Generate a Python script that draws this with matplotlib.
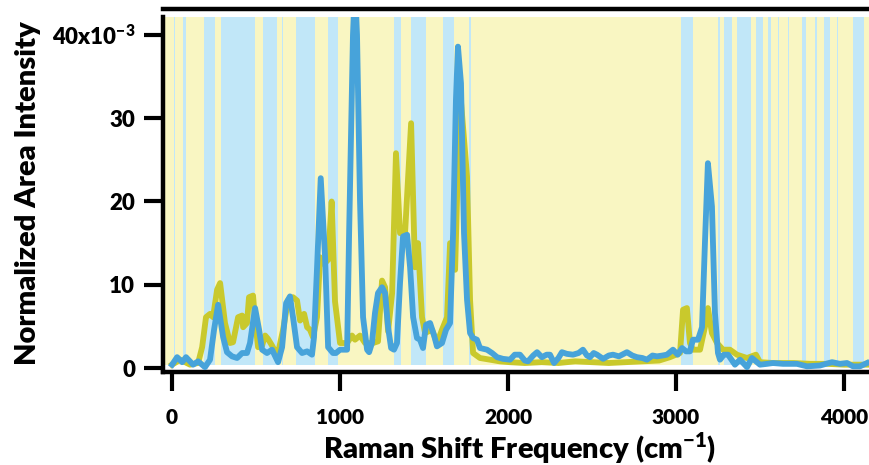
import matplotlib
matplotlib.use("Agg")
import matplotlib.pyplot as plt
from matplotlib.ticker import FixedLocator, FixedFormatter

plt.rcParams['font.family'] = ['Lato', 'DejaVu Sans']
plt.rcParams['mathtext.fontset'] = 'custom'
plt.rcParams['mathtext.bf'] = 'Lato:heavy'
plt.rcParams['mathtext.rm'] = 'Lato:heavy'

# Raman shift (cm-1) and normalized area intensity (x10^-3)
shift_blue = [0, 30, 60, 83, 125, 155, 196, 226, 250, 274, 304, 327, 357, 387, 417, 446,
              464, 494, 518, 536, 565, 595, 631, 655, 679, 702, 720, 744, 774, 804, 833,
              845, 863, 885, 911, 929, 958, 976, 1000, 1042, 1054, 1077, 1089, 1101, 1119,
              1137, 1161, 1173, 1190, 1208, 1226, 1250, 1268, 1286, 1304, 1321, 1339, 1357,
              1375, 1399, 1417, 1435, 1458, 1476, 1494, 1512, 1536, 1560, 1577, 1607, 1631,
              1655, 1673, 1690, 1702, 1720, 1738, 1756, 1774, 1792, 1815, 1833, 1875, 1905,
              1935, 1970, 2012, 2040, 2071, 2100, 2119, 2150, 2173, 2202, 2230, 2250, 2274,
              2300, 2321, 2350, 2387, 2420, 2446, 2470, 2488, 2510, 2530, 2566, 2600, 2625,
              2660, 2708, 2740, 2768, 2800, 2827, 2860, 2887, 2920, 2946, 2982, 3010, 3036,
              3060, 3083, 3101, 3131, 3155, 3173, 3190, 3214, 3232, 3250, 3262, 3285, 3310,
              3351, 3381, 3423, 3452, 3500, 3542, 3577, 3637, 3680, 3720, 3780, 3857, 3929,
              3976, 4018, 4054, 4095, 4137]
int_blue = [0.4, 1.3, 0.7, 1.3, 0.4, 0.8, 0.1, 1.0, 4.6, 7.6, 3.7, 1.9, 1.4, 1.2, 1.8, 1.8,
            3.0, 7.2, 4.6, 2.2, 1.8, 2.2, 0.7, 2.5, 7.8, 8.6, 6.1, 2.5, 1.8, 2.0, 1.6,
            3.7, 12.0, 22.8, 13.3, 2.5, 1.8, 1.8, 2.2, 2.2, 16.2, 40.0, 46.0, 40.0, 20.0,
            6.1, 2.2, 1.9, 3.0, 6.6, 9.0, 9.7, 9.0, 4.9, 2.4, 2.2, 3.0, 10.2,
            15.8, 16.0, 12.1, 6.1, 3.6, 3.4, 2.4, 5.2, 5.4, 3.9, 2.6, 3.0, 4.6,
            5.4, 16.2, 32.2, 38.6, 34.2, 16.2, 8.2, 4.2, 3.6, 3.4, 2.4, 2.2, 1.8,
            1.3, 1.1, 1.0, 1.6, 1.6, 0.9, 0.8, 1.5, 1.9, 1.3, 1.6, 1.6, 0.6,
            1.2, 1.9, 1.7, 1.6, 1.8, 2.2, 1.5, 1.3, 1.8, 1.6, 1.1, 1.5, 1.6,
            1.4, 1.9, 1.5, 1.3, 1.2, 1.0, 1.5, 1.4, 1.5, 1.6, 2.2, 1.6, 2.4,
            2.0, 2.0, 3.4, 3.4, 4.9, 15.4, 24.6, 19.4, 6.6, 1.8, 1.0, 1.6, 1.6,
            0.4, 1.0, 0.1, 1.2, 0.4, 0.5, 0.6, 0.5, 0.5, 0.5, 0.2, 0.3, 0.7,
            0.5, 0.6, 0.2, 0.2, 0.6]

shift_olive = [0, 48, 107, 155, 179, 202, 226, 244, 268, 286, 315, 345, 363, 393, 417, 423,
               446, 458, 482, 494, 512, 536, 554, 571, 595, 613, 631, 661, 690, 720, 744,
               762, 786, 804, 821, 839, 863, 881, 905, 929, 950, 970, 1000, 1042, 1071, 1089,
               1119, 1149, 1196, 1226, 1250, 1268, 1286, 1310, 1333, 1357, 1387, 1423, 1446,
               1464, 1488, 1506, 1548, 1577, 1607, 1637, 1655, 1685, 1708, 1720, 1756, 1774,
               1792, 1833, 1893, 1950, 2010, 2100, 2200, 2300, 2400, 2500, 2600, 2700, 2800,
               2900, 2964, 3024, 3042, 3065, 3083, 3101, 3143, 3173, 3190, 3214, 3244, 3280,
               3321, 3363, 3423, 3476, 3500, 3577, 3700, 3800, 3900, 4000, 4137]
int_olive = [0.4, 1.0, 0.4, 0.6, 2.5, 6.1, 6.5, 6.1, 9.4, 10.2, 5.4, 3.0, 3.1, 6.1, 6.3, 4.9,
             5.4, 8.5, 8.7, 5.7, 2.5, 2.7, 3.9, 3.5, 2.7, 2.0, 1.8, 4.6, 8.1, 8.5, 8.1,
             5.7, 6.5, 4.9, 4.6, 3.7, 6.1, 13.3, 12.5, 13.0, 20.0, 8.0, 3.0, 3.0, 3.9, 3.4,
             3.9, 3.0, 3.0, 3.2, 10.5, 9.7, 4.4, 9.0, 25.8, 16.2, 16.2, 29.4, 12.1,
             15.0, 6.1, 4.2, 4.6, 3.0, 4.6, 6.1, 15.0, 11.8, 29.0, 32.0, 23.0, 8.2,
             1.8, 1.2, 1.0, 0.8, 0.7, 0.6, 0.7, 0.6, 0.8, 0.7, 0.6, 0.7, 0.8,
             0.9, 1.3, 1.8, 7.0, 7.2, 3.0, 2.2, 2.2, 5.0, 7.2, 4.2, 3.0, 2.2,
             2.2, 1.6, 1.2, 1.6, 0.7, 0.6, 0.6, 0.5, 0.5, 0.4, 0.4]

# light-blue background bands (start, end in cm-1); the rest is pale yellow
blue_bands = [(12, 18), (65, 83), (190, 256), (292, 494), (542, 625), (655, 661),
              (738, 851), (929, 988), (1321, 1363), (1423, 1512), (1613, 1679),
              (1768, 1780), (3030, 3101), (3250, 3262), (3286, 3333), (3363, 3446),
              (3476, 3518), (3548, 3565), (3607, 3613), (3667, 3673), (3750, 3774),
              (3827, 3839), (3881, 3917), (3958, 3964), (4054, 4119)]

ytick_vals = [0, 10, 20, 30, 40]
ytick_text = ['0', '10', '20', '30', '40x10$^{\\mathbf{-3}}$']
xtick_vals = [0, 1000, 2000, 3000, 4000]

fig = plt.figure(figsize=(8.7, 4.65), dpi=100)
ax = fig.add_axes([163 / 870, 93 / 465, 707 / 870, 355 / 465])

x_lo, x_hi = -54, 4155
band_lo = 0.02
ax.axvspan(x_lo, x_hi, ymin=band_lo, ymax=1, color='#f9f6c2', lw=0, zorder=0)
for a, b in blue_bands:
    ax.axvspan(a, b, ymin=band_lo, ymax=1, color='#c1e7f8', lw=0, zorder=1)

ax.plot(shift_olive, int_olive, color='#c9c92c', lw=4.2, zorder=3)
ax.plot(shift_blue, int_blue, color='#47a3da', lw=4.2, zorder=4)

ax.set_xlim(x_lo, x_hi)
ax.set_ylim(-0.48, 42.16)

for s in ['left', 'bottom', 'top']:
    ax.spines[s].set_linewidth(3.2)
    ax.spines[s].set_color('black')
ax.spines['right'].set_visible(False)
ax.spines['top'].set_position(('outward', 6))

ax.yaxis.set_major_locator(FixedLocator(ytick_vals))
ax.yaxis.set_major_formatter(FixedFormatter(ytick_text))
ax.xaxis.set_major_locator(FixedLocator(xtick_vals))
ax.tick_params(axis='both', direction='out', length=14, width=3)
ax.tick_params(axis='y', pad=6, labelsize=16)
ax.tick_params(axis='x', pad=12, labelsize=15)
for lab in ax.get_xticklabels() + ax.get_yticklabels():
    lab.set_fontweight('heavy')

fig.text(28 / 870, 1 - 193 / 465, 'Normalized Area Intensity', rotation=90,
         ha='center', va='center', fontsize=21, fontweight='heavy')
fig.text(520 / 870, 6 / 465, 'Raman Shift Frequency (cm$^{\\mathbf{-1}}$)',
         ha='center', va='baseline', fontsize=21, fontweight='heavy')

fig.savefig('out.png', dpi=100)
